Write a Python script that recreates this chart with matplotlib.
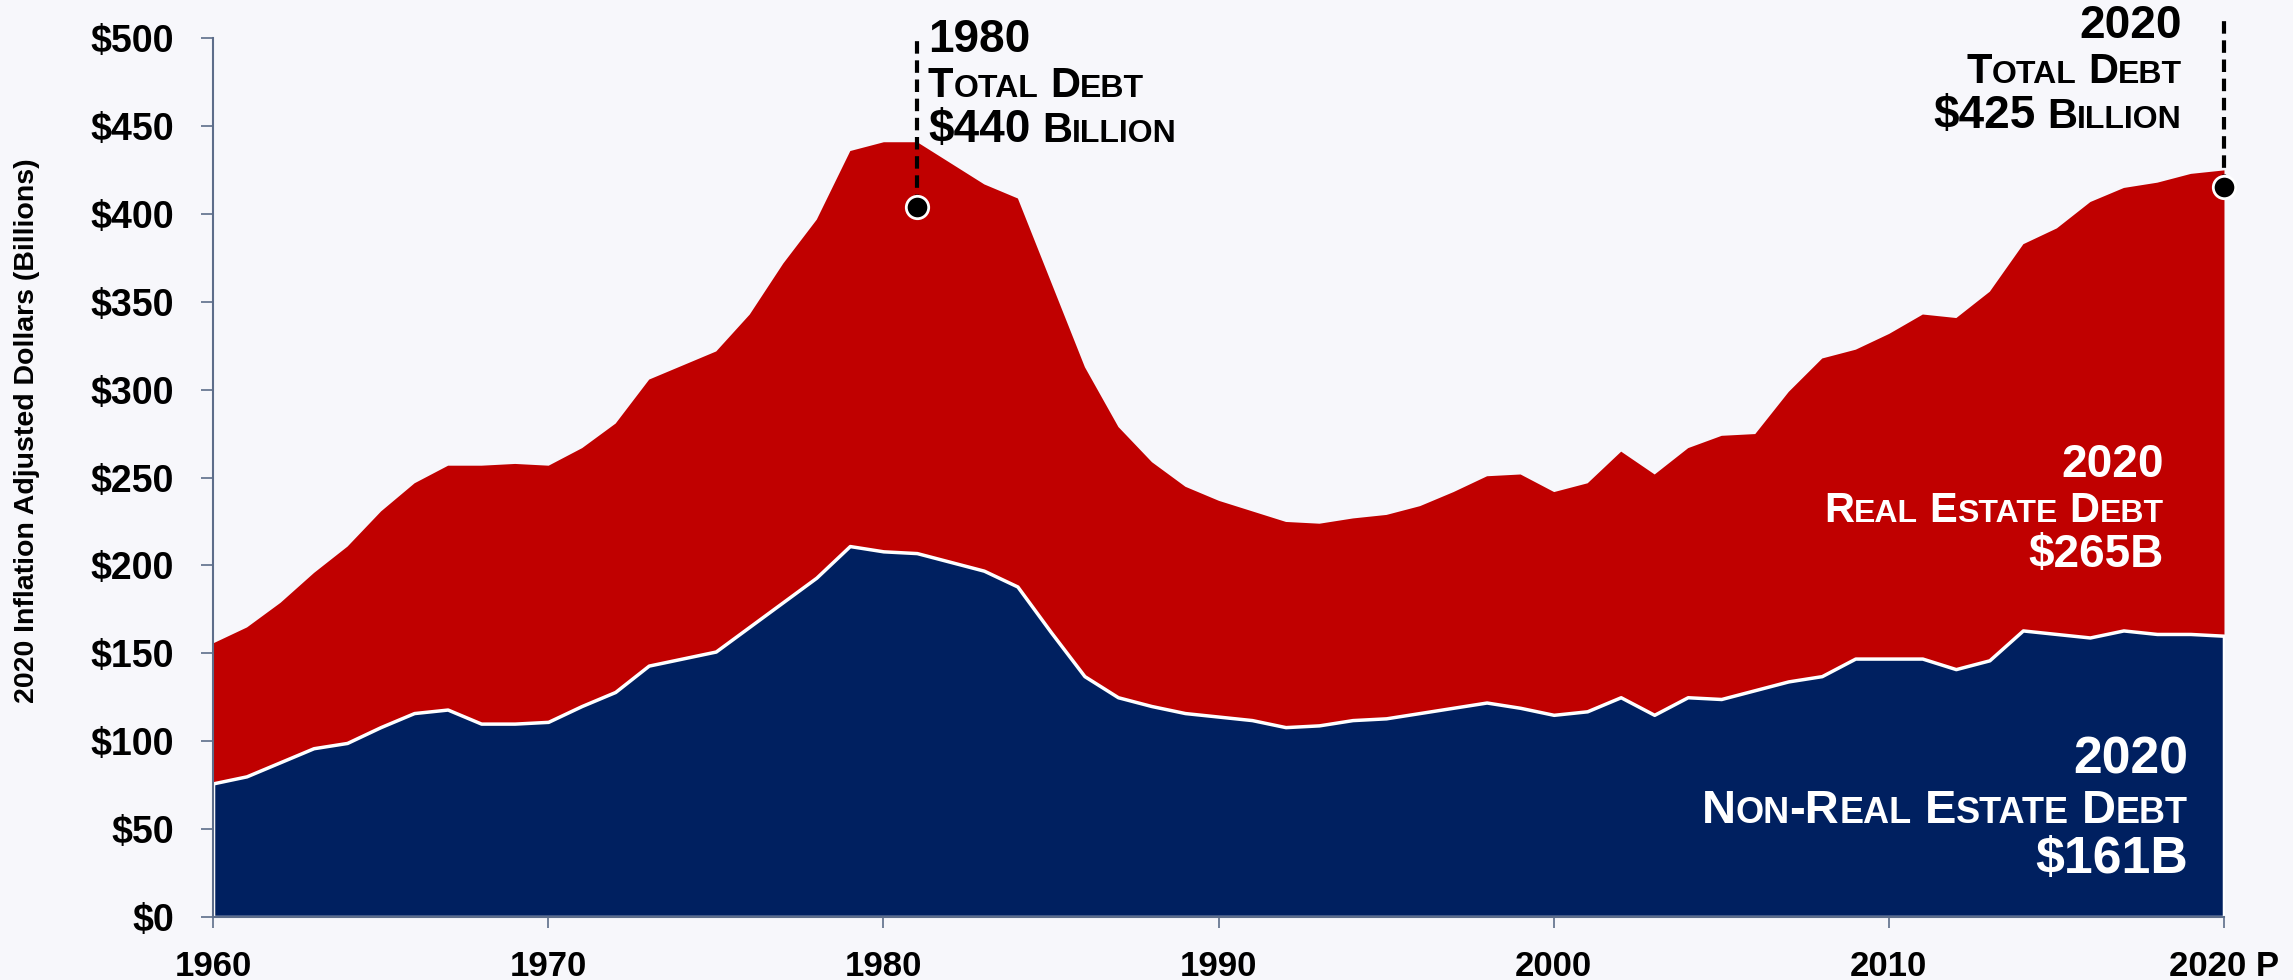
import matplotlib
matplotlib.use('Agg')
import matplotlib.pyplot as plt
from matplotlib.transforms import IdentityTransform

# farm debt, 2020 inflation adjusted dollars (billions)
years = list(range(1960, 2021))
total_debt = [156, 165, 179, 196, 211, 231, 247, 257, 257, 258,
              257, 267, 281, 306, 314, 322, 343, 372, 397, 436,
              441, 441, 429, 417, 409, 361, 313, 279, 259, 245,
              237, 231, 225, 224, 227, 229, 234, 242, 251, 252,
              242, 247, 265, 252, 267, 274, 275, 299, 318, 323,
              332, 343, 341, 356, 383, 392, 407, 415, 418, 423, 425]
non_re_debt = [76, 80, 88, 96, 99, 108, 116, 118, 110, 110,
               111, 120, 128, 143, 147, 151, 165, 179, 193, 211,
               208, 207, 202, 197, 188, 162, 137, 125, 120, 116,
               114, 112, 108, 109, 112, 113, 116, 119, 122, 119,
               115, 117, 125, 115, 125, 124, 129, 134, 137, 147,
               147, 147, 141, 146, 163, 161, 159, 163, 161, 161, 160]

x_ticks = [1960, 1970, 1980, 1990, 2000, 2010, 2020]
x_labels = ['1960', '1970', '1980', '1990', '2000', '2010', '2020 P']
y_ticks = [0, 50, 100, 150, 200, 250, 300, 350, 400, 450, 500]
y_labels = ['$' + str(v) for v in y_ticks]

marker_years = [1981, 2020]
marker_vals = [404, 415]
marker_tops = [502, 512]

note_1980 = ['1980', 'Total Debt', '$440 Billion']
note_2020 = ['2020', 'Total Debt', '$425 Billion']
re_note = ['2020', 'Real Estate Debt', '$265B']
nre_note = ['2020', 'Non-Real Estate Debt', '$161B']

RED = '#C00000'
NAVY = '#002060'
BG = '#F7F7FB'
AXC = '#5D6D8A'
FONT = ['Liberation Sans', 'DejaVu Sans']

plt.rcParams['font.family'] = FONT

fig = plt.figure(figsize=(22.93, 9.8), dpi=100, facecolor=BG)
ax = fig.add_axes([0.0929, 0.0643, 0.877, 0.8969])
ax.set_facecolor(BG)

ax.fill_between(years, 0, total_debt, color=RED, lw=0, zorder=1)
ax.fill_between(years, 0, non_re_debt, facecolor=NAVY, edgecolor='white',
                lw=2.5, zorder=2)

ax.set_xlim(1960, 2020)
ax.set_ylim(0, 500)
ax.set_xticks(x_ticks)
ax.set_xticklabels(x_labels)
ax.set_yticks(y_ticks)
ax.set_yticklabels(y_labels)
for s in ['top', 'right']:
    ax.spines[s].set_visible(False)
for s in ['left', 'bottom']:
    ax.spines[s].set_color(AXC)
    ax.spines[s].set_linewidth(1.5)
ax.tick_params(axis='y', length=9, width=1.2, color=AXC, pad=19, labelsize=27)
ax.tick_params(axis='x', length=8, width=1.2, color=AXC, pad=16, labelsize=25)
for lbl in ax.get_xticklabels() + ax.get_yticklabels():
    lbl.set_fontweight('bold')

fig.text(27 / 2293, 1 - 431 / 980, '2020 Inflation Adjusted Dollars (Billions)',
         rotation=90, ha='center', va='center', fontsize=20.5, fontweight='bold')

# dashed callouts
for xv, yv, top in zip(marker_years, marker_vals, marker_tops):
    ax.plot([xv, xv], [yv, top], color='black', lw=3, ls=(0, (3, 1.6)),
            clip_on=False, zorder=4)
    ax.scatter([xv], [yv], s=260, color='black', edgecolor='white', lw=2,
               zorder=5, clip_on=False)


def caps_parts(s, num, big, small):
    # fake small caps: capitals big, lower case shrunk, numbers (and units after them) largest
    parts = []
    prev = ''
    for ch in s:
        if ch == ' ':
            parts.append((None, big))
            prev = ch
            continue
        if ch.isdigit() or ch == '$' or (ch.isupper() and prev.isdigit()):
            sz = num
        elif ch.islower():
            sz = small
        else:
            sz = big
        if parts and parts[-1][0] is not None and parts[-1][1] == sz:
            parts[-1] = (parts[-1][0] + ch.upper(), sz)
        else:
            parts.append((ch.upper(), sz))
        prev = ch
    return parts


renderer = fig.canvas.get_renderer()


def draw_block(x, y, lines, ha, color, scale=1.0, spacing=45):
    px, py = ax.transData.transform((x, y))
    for i, line in enumerate(lines):
        parts = caps_parts(line, 33 * scale, 30 * scale, 23 * scale)
        objs, widths = [], []
        for txt, sz in parts:
            if txt is None:
                objs.append(None)
                widths.append(0.28 * sz / 0.72)
                continue
            t = fig.text(0, 0, txt, fontsize=sz, fontweight='bold', color=color,
                         transform=IdentityTransform(), ha='left', va='baseline')
            objs.append(t)
            widths.append(t.get_window_extent(renderer).width)
        cx = px - sum(widths) if ha == 'right' else px
        by = py - i * spacing
        for t, w in zip(objs, widths):
            if t is not None:
                t.set_position((cx, by))
            cx += w


draw_block(1981.33, 492, note_1980, 'left', 'black')
draw_block(2018.75, 500, note_2020, 'right', 'black')
draw_block(2018.2, 250.3, re_note, 'right', 'white')
draw_block(2018.93, 81.9, nre_note, 'right', 'white', scale=1.13, spacing=50)

fig.savefig('out.png', dpi=100, facecolor=BG)
